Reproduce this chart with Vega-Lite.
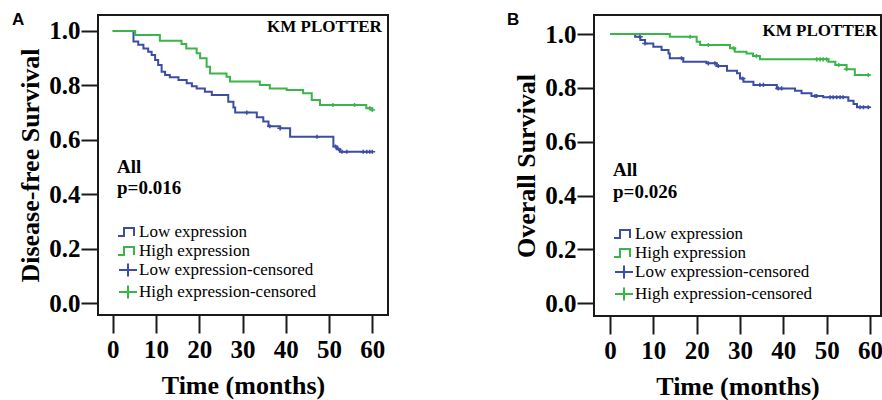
{
  "$schema": "https://vega.github.io/schema/vega-lite/v6.json",
  "autosize": {"type": "none"},
  "padding": {"left": 98, "top": 15, "right": 784, "bottom": 385},
  "background": "white",
  "bounds": "flush",
  "spacing": 206,
  "config": {
    "view": {"stroke": "#1a1a1a", "strokeWidth": 2},
    "font": "Liberation Serif",
    "axis": {
      "domain": false, "grid": false, "tickColor": "#1a1a1a", "tickWidth": 2,
      "labelFont": "Liberation Serif", "labelFontWeight": "bold", "labelFontSize": 25, "labelColor": "black",
      "titleFont": "Liberation Serif", "titleFontWeight": "bold", "titleFontSize": 26, "titleColor": "black",
      "labelOverlap": false, "labelFlush": false
    },
    "legend": {
      "labelFont": "Liberation Serif", "labelFontSize": 17, "labelColor": "black", "labelLimit": 0,
      "symbolSize": 400, "symbolStrokeWidth": 2, "rowPadding": 0, "labelOffset": 0, "padding": 0
    }
  },
  "datasets": {
    "curves": [
      {"p":"A","series":"Low expression","t":0,"s":1.0},
      {"p":"A","series":"Low expression","t":4.8,"s":0.961},
      {"p":"A","series":"Low expression","t":5.9,"s":0.949},
      {"p":"A","series":"Low expression","t":7.1,"s":0.936},
      {"p":"A","series":"Low expression","t":8.2,"s":0.924},
      {"p":"A","series":"Low expression","t":9.0,"s":0.912},
      {"p":"A","series":"Low expression","t":9.8,"s":0.893},
      {"p":"A","series":"Low expression","t":10.5,"s":0.875},
      {"p":"A","series":"Low expression","t":11.3,"s":0.850},
      {"p":"A","series":"Low expression","t":12.1,"s":0.838},
      {"p":"A","series":"Low expression","t":13.2,"s":0.830},
      {"p":"A","series":"Low expression","t":15.2,"s":0.820},
      {"p":"A","series":"Low expression","t":17.1,"s":0.808},
      {"p":"A","series":"Low expression","t":18.3,"s":0.797},
      {"p":"A","series":"Low expression","t":19.4,"s":0.789},
      {"p":"A","series":"Low expression","t":21.3,"s":0.777},
      {"p":"A","series":"Low expression","t":22.9,"s":0.765},
      {"p":"A","series":"Low expression","t":26.7,"s":0.740},
      {"p":"A","series":"Low expression","t":27.9,"s":0.719},
      {"p":"A","series":"Low expression","t":28.3,"s":0.700},
      {"p":"A","series":"Low expression","t":33.3,"s":0.683},
      {"p":"A","series":"Low expression","t":34.8,"s":0.667},
      {"p":"A","series":"Low expression","t":36.0,"s":0.650},
      {"p":"A","series":"Low expression","t":38.7,"s":0.642},
      {"p":"A","series":"Low expression","t":41.0,"s":0.611},
      {"p":"A","series":"Low expression","t":51.0,"s":0.575},
      {"p":"A","series":"Low expression","t":51.8,"s":0.565},
      {"p":"A","series":"Low expression","t":52.5,"s":0.556},
      {"p":"A","series":"Low expression","t":60,"s":0.556},
      {"p":"A","series":"High expression","t":0,"s":1.0},
      {"p":"A","series":"High expression","t":5.2,"s":0.985},
      {"p":"A","series":"High expression","t":10.9,"s":0.964},
      {"p":"A","series":"High expression","t":15.9,"s":0.952},
      {"p":"A","series":"High expression","t":17.0,"s":0.936},
      {"p":"A","series":"High expression","t":19.4,"s":0.918},
      {"p":"A","series":"High expression","t":20.2,"s":0.900},
      {"p":"A","series":"High expression","t":21.7,"s":0.869},
      {"p":"A","series":"High expression","t":22.5,"s":0.844},
      {"p":"A","series":"High expression","t":26.3,"s":0.832},
      {"p":"A","series":"High expression","t":27.1,"s":0.814},
      {"p":"A","series":"High expression","t":34.0,"s":0.801},
      {"p":"A","series":"High expression","t":36.3,"s":0.789},
      {"p":"A","series":"High expression","t":40.2,"s":0.783},
      {"p":"A","series":"High expression","t":44.0,"s":0.771},
      {"p":"A","series":"High expression","t":46.0,"s":0.746},
      {"p":"A","series":"High expression","t":47.9,"s":0.728},
      {"p":"A","series":"High expression","t":58.6,"s":0.716},
      {"p":"A","series":"High expression","t":60,"s":0.710},
      {"p":"B","series":"Low expression","t":0,"s":1.0},
      {"p":"B","series":"Low expression","t":5.8,"s":0.990},
      {"p":"B","series":"Low expression","t":7.0,"s":0.978},
      {"p":"B","series":"Low expression","t":8.1,"s":0.965},
      {"p":"B","series":"Low expression","t":10.0,"s":0.953},
      {"p":"B","series":"Low expression","t":11.9,"s":0.941},
      {"p":"B","series":"Low expression","t":13.5,"s":0.928},
      {"p":"B","series":"Low expression","t":13.8,"s":0.910},
      {"p":"B","series":"Low expression","t":16.9,"s":0.897},
      {"p":"B","series":"Low expression","t":22.3,"s":0.891},
      {"p":"B","series":"Low expression","t":24.6,"s":0.881},
      {"p":"B","series":"Low expression","t":27.0,"s":0.864},
      {"p":"B","series":"Low expression","t":29.3,"s":0.854},
      {"p":"B","series":"Low expression","t":30.0,"s":0.835},
      {"p":"B","series":"Low expression","t":30.8,"s":0.823},
      {"p":"B","series":"Low expression","t":33.1,"s":0.811},
      {"p":"B","series":"Low expression","t":38.5,"s":0.798},
      {"p":"B","series":"Low expression","t":42.7,"s":0.789},
      {"p":"B","series":"Low expression","t":44.2,"s":0.780},
      {"p":"B","series":"Low expression","t":46.5,"s":0.770},
      {"p":"B","series":"Low expression","t":49.2,"s":0.765},
      {"p":"B","series":"Low expression","t":55.0,"s":0.752},
      {"p":"B","series":"Low expression","t":56.2,"s":0.740},
      {"p":"B","series":"Low expression","t":57.0,"s":0.728},
      {"p":"B","series":"Low expression","t":60,"s":0.728},
      {"p":"B","series":"High expression","t":0,"s":1.0},
      {"p":"B","series":"High expression","t":13.8,"s":0.990},
      {"p":"B","series":"High expression","t":20.0,"s":0.971},
      {"p":"B","series":"High expression","t":20.8,"s":0.959},
      {"p":"B","series":"High expression","t":27.7,"s":0.947},
      {"p":"B","series":"High expression","t":28.8,"s":0.934},
      {"p":"B","series":"High expression","t":31.5,"s":0.928},
      {"p":"B","series":"High expression","t":33.0,"s":0.918},
      {"p":"B","series":"High expression","t":34.6,"s":0.906},
      {"p":"B","series":"High expression","t":50.4,"s":0.897},
      {"p":"B","series":"High expression","t":52.0,"s":0.885},
      {"p":"B","series":"High expression","t":54.6,"s":0.869},
      {"p":"B","series":"High expression","t":56.5,"s":0.848},
      {"p":"B","series":"High expression","t":60,"s":0.848}
    ],
    "cens": [
      {"p":"A","series":"Low expression-censored","t":31.0,"s":0.700},
      {"p":"A","series":"Low expression-censored","t":36.3,"s":0.650},
      {"p":"A","series":"Low expression-censored","t":38.7,"s":0.642},
      {"p":"A","series":"Low expression-censored","t":47.2,"s":0.611},
      {"p":"A","series":"Low expression-censored","t":51.5,"s":0.575},
      {"p":"A","series":"Low expression-censored","t":52.2,"s":0.565},
      {"p":"A","series":"Low expression-censored","t":53.0,"s":0.556},
      {"p":"A","series":"Low expression-censored","t":54.1,"s":0.556},
      {"p":"A","series":"Low expression-censored","t":57.9,"s":0.556},
      {"p":"A","series":"Low expression-censored","t":58.7,"s":0.556},
      {"p":"A","series":"Low expression-censored","t":59.4,"s":0.556},
      {"p":"A","series":"Low expression-censored","t":60.0,"s":0.556},
      {"p":"A","series":"High expression-censored","t":50.9,"s":0.728},
      {"p":"A","series":"High expression-censored","t":55.9,"s":0.728},
      {"p":"A","series":"High expression-censored","t":59.4,"s":0.716},
      {"p":"A","series":"High expression-censored","t":60.0,"s":0.710},
      {"p":"B","series":"Low expression-censored","t":6.9,"s":0.990},
      {"p":"B","series":"Low expression-censored","t":8.1,"s":0.965},
      {"p":"B","series":"Low expression-censored","t":16.5,"s":0.910},
      {"p":"B","series":"Low expression-censored","t":22.7,"s":0.891},
      {"p":"B","series":"Low expression-censored","t":24.2,"s":0.891},
      {"p":"B","series":"Low expression-censored","t":25.0,"s":0.881},
      {"p":"B","series":"Low expression-censored","t":30.6,"s":0.835},
      {"p":"B","series":"Low expression-censored","t":34.6,"s":0.811},
      {"p":"B","series":"Low expression-censored","t":35.4,"s":0.811},
      {"p":"B","series":"Low expression-censored","t":38.8,"s":0.798},
      {"p":"B","series":"Low expression-censored","t":39.6,"s":0.798},
      {"p":"B","series":"Low expression-censored","t":47.3,"s":0.770},
      {"p":"B","series":"Low expression-censored","t":47.7,"s":0.770},
      {"p":"B","series":"Low expression-censored","t":50.8,"s":0.765},
      {"p":"B","series":"Low expression-censored","t":51.5,"s":0.765},
      {"p":"B","series":"Low expression-censored","t":52.3,"s":0.765},
      {"p":"B","series":"Low expression-censored","t":53.1,"s":0.765},
      {"p":"B","series":"Low expression-censored","t":53.8,"s":0.765},
      {"p":"B","series":"Low expression-censored","t":57.7,"s":0.728},
      {"p":"B","series":"Low expression-censored","t":58.5,"s":0.728},
      {"p":"B","series":"Low expression-censored","t":59.6,"s":0.728},
      {"p":"B","series":"High expression-censored","t":18.5,"s":0.990},
      {"p":"B","series":"High expression-censored","t":22.7,"s":0.959},
      {"p":"B","series":"High expression-censored","t":28.5,"s":0.947},
      {"p":"B","series":"High expression-censored","t":33.8,"s":0.918},
      {"p":"B","series":"High expression-censored","t":47.7,"s":0.906},
      {"p":"B","series":"High expression-censored","t":48.5,"s":0.906},
      {"p":"B","series":"High expression-censored","t":49.2,"s":0.906},
      {"p":"B","series":"High expression-censored","t":50.0,"s":0.906},
      {"p":"B","series":"High expression-censored","t":52.8,"s":0.885},
      {"p":"B","series":"High expression-censored","t":54.6,"s":0.869},
      {"p":"B","series":"High expression-censored","t":59.6,"s":0.848}
    ]
  },
  "hconcat": [
    {
      "width": 290, "height": 300,
      "title": {"text": "A", "anchor": "start", "frame": "group", "offset": 0, "dx": -86, "dy": 27, "baseline": "alphabetic", "font": "Liberation Sans", "fontSize": 17, "fontWeight": "bold", "color": "black"},
      "layer": [
        {
          "data": {"name": "curves"},
          "transform": [{"filter": "datum.p === 'A'"}],
          "mark": {"type": "line", "interpolate": "step-after", "strokeWidth": 2},
          "encoding": {
            "x": {"field": "t", "type": "quantitative", "scale": {"domain": [-3.4, 63.62], "nice": false, "zero": false}, "axis": {"values": [0,10,20,30,40,50,60], "title": "Time (months)", "tickSize": 18, "labelPadding": 4, "titlePadding": 10}},
            "y": {"field": "s", "type": "quantitative", "scale": {"domain": [-0.0441, 1.0588], "nice": false, "zero": false}, "axis": {"values": [0,0.2,0.4,0.6,0.8,1.0], "format": ".1f", "title": "Disease-free Survival", "tickSize": 17, "labelPadding": 1, "titlePadding": 5}},
            "color": {"field": "series", "type": "nominal", "scale": {"domain": ["Low expression","High expression","Low expression-censored","High expression-censored"], "range": ["#3b4ea3","#3ab54a","#3b4ea3","#3ab54a"]}}
          }
        },
        {
          "data": {"name": "cens"},
          "transform": [{"filter": "datum.p === 'A'"}],
          "mark": {"type": "point", "filled": false, "size": 40, "strokeWidth": 1.5, "opacity": 1},
          "encoding": {
            "x": {"field": "t", "type": "quantitative"},
            "y": {"field": "s", "type": "quantitative"},
            "color": {"field": "series", "type": "nominal",
              "legend": {"orient": "none", "legendX": 19, "legendY": 206, "title": null, "encode": {"symbols": {"update": {"fill": {"value": "transparent"}, "strokeWidth": {"value": 2}}}}}},
            "shape": {"field": "series", "type": "nominal",
              "scale": {"domain": ["Low expression","High expression","Low expression-censored","High expression-censored"], "range": ["M-1,0.4L-0.4,0.4L-0.4,-0.4L0.6,-0.4L0.6,0.4","M-1,0.4L-0.4,0.4L-0.4,-0.4L0.6,-0.4L0.6,0.4","M-0.9,0L0.9,0M0,-0.65L0,0.65","M-0.9,0L0.9,0M0,-0.65L0,0.65"]},
              "legend": {"orient": "none", "legendX": 19, "legendY": 206, "title": null, "encode": {"symbols": {"update": {"fill": {"value": "transparent"}, "strokeWidth": {"value": 2}}}}}
            }
          }
        },
        {
          "data": {"values": [{}]},
          "mark": {"type": "text", "text": "KM PLOTTER", "align": "right", "baseline": "middle", "font": "Liberation Serif", "fontWeight": "bold", "fontSize": 17, "color": "black"},
          "encoding": {"x": {"datum": 62.2}, "y": {"datum": 1.015}}
        },
        {
          "data": {"values": [{}]},
          "mark": {"type": "text", "text": "All", "align": "left", "baseline": "middle", "font": "Liberation Serif", "fontWeight": "bold", "fontSize": 19, "color": "black"},
          "encoding": {"x": {"datum": 1.0}, "y": {"datum": 0.5}}
        },
        {
          "data": {"values": [{}]},
          "mark": {"type": "text", "text": "p=0.016", "align": "left", "baseline": "middle", "font": "Liberation Serif", "fontWeight": "bold", "fontSize": 19, "color": "black"},
          "encoding": {"x": {"datum": 1.0}, "y": {"datum": 0.423}}
        }
      ]
    },
    {
      "width": 287, "height": 301,
      "title": {"text": "B", "anchor": "start", "frame": "group", "offset": 0, "dx": -87, "dy": 27, "baseline": "alphabetic", "font": "Liberation Sans", "fontSize": 17, "fontWeight": "bold", "color": "black"},
      "layer": [
        {
          "data": {"name": "curves"},
          "transform": [{"filter": "datum.p === 'B'"}],
          "mark": {"type": "line", "interpolate": "step-after", "strokeWidth": 2},
          "encoding": {
            "x": {"field": "t", "type": "quantitative", "scale": {"domain": [-3.69, 62.54], "nice": false, "zero": false}, "axis": {"values": [0,10,20,30,40,50,60], "title": "Time (months)", "tickSize": 18, "labelPadding": 4, "titlePadding": 10}},
            "y": {"field": "s", "type": "quantitative", "scale": {"domain": [-0.0472, 1.0706], "nice": false, "zero": false}, "axis": {"values": [0,0.2,0.4,0.6,0.8,1.0], "format": ".1f", "title": "Overall Survival", "tickSize": 17, "labelPadding": 1, "titlePadding": 5}},
            "color": {"field": "series", "type": "nominal", "scale": {"domain": ["Low expression","High expression","Low expression-censored","High expression-censored"], "range": ["#3b4ea3","#3ab54a","#3b4ea3","#3ab54a"]}}
          }
        },
        {
          "data": {"name": "cens"},
          "transform": [{"filter": "datum.p === 'B'"}],
          "mark": {"type": "point", "filled": false, "size": 40, "strokeWidth": 1.5, "opacity": 1},
          "encoding": {
            "x": {"field": "t", "type": "quantitative"},
            "y": {"field": "s", "type": "quantitative"},
            "color": {"field": "series", "type": "nominal",
              "legend": {"orient": "none", "legendX": 19, "legendY": 208, "title": null, "encode": {"symbols": {"update": {"fill": {"value": "transparent"}, "strokeWidth": {"value": 2}}}}}},
            "shape": {"field": "series", "type": "nominal",
              "scale": {"domain": ["Low expression","High expression","Low expression-censored","High expression-censored"], "range": ["M-1,0.4L-0.4,0.4L-0.4,-0.4L0.6,-0.4L0.6,0.4","M-1,0.4L-0.4,0.4L-0.4,-0.4L0.6,-0.4L0.6,0.4","M-0.9,0L0.9,0M0,-0.65L0,0.65","M-0.9,0L0.9,0M0,-0.65L0,0.65"]},
              "legend": {"orient": "none", "legendX": 19, "legendY": 208, "title": null, "encode": {"symbols": {"update": {"fill": {"value": "transparent"}, "strokeWidth": {"value": 2}}}}}
            }
          }
        },
        {
          "data": {"values": [{}]},
          "mark": {"type": "text", "text": "KM PLOTTER", "align": "right", "baseline": "middle", "font": "Liberation Serif", "fontWeight": "bold", "fontSize": 17, "color": "black"},
          "encoding": {"x": {"datum": 61.7}, "y": {"datum": 1.012}}
        },
        {
          "data": {"values": [{}]},
          "mark": {"type": "text", "text": "All", "align": "left", "baseline": "middle", "font": "Liberation Serif", "fontWeight": "bold", "fontSize": 19, "color": "black"},
          "encoding": {"x": {"datum": 0.7}, "y": {"datum": 0.495}}
        },
        {
          "data": {"values": [{}]},
          "mark": {"type": "text", "text": "p=0.026", "align": "left", "baseline": "middle", "font": "Liberation Serif", "fontWeight": "bold", "fontSize": 19, "color": "black"},
          "encoding": {"x": {"datum": 0.7}, "y": {"datum": 0.413}}
        }
      ]
    }
  ],
  "resolve": {"scale": {"color": "independent", "shape": "independent"}, "legend": {"color": "independent", "shape": "independent"}}
}
